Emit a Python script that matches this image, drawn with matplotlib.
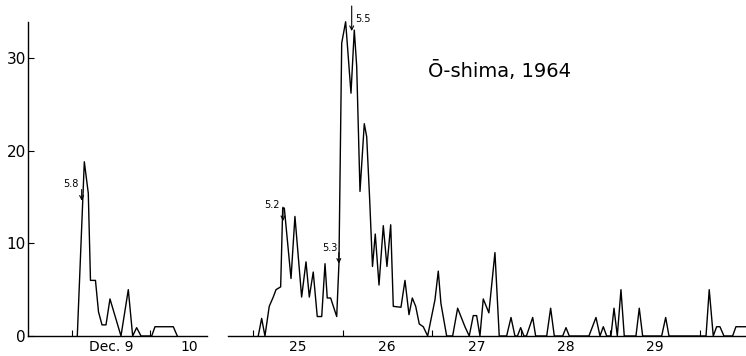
import matplotlib.pyplot as plt

plt.rcParams['font.family'] = ['DejaVu Sans']

# 震源数（Ō-shima 1964），时间单位：12月的日（小数）
t_dec9 = [9.068, 9.158, 9.209, 9.237, 9.301, 9.340, 9.385, 9.436, 9.487, 9.628,
          9.722, 9.778, 9.829, 9.885, 10.022, 10.064, 10.299, 10.350]
n_dec9 = [0, 18.8, 15.4, 6.0, 6.0, 2.6, 1.2, 1.2, 4.0, 0,
          5.0, 0, 0.9, 0, 0, 1.0, 1.0, 0]

t_dec25 = [25.055, 25.093, 25.130, 25.178, 25.223, 25.254, 25.306, 25.329, 25.347, 25.422,
           25.466, 25.541, 25.590, 25.627, 25.671, 25.716, 25.766, 25.803, 25.828, 25.866,
           25.934, 25.959, 25.990, 26.034, 26.094, 26.131, 26.158, 26.195, 26.243, 26.270,
           26.302, 26.335, 26.366, 26.408, 26.456, 26.497, 26.539, 26.568, 26.654, 26.699,
           26.744, 26.781, 26.819, 26.859, 26.904, 26.953, 27.035, 27.072, 27.102, 27.166,
           27.233, 27.289, 27.371, 27.419, 27.464, 27.502, 27.539, 27.576, 27.639, 27.707,
           27.755, 27.838, 27.887, 27.931, 27.959, 27.995, 28.032, 28.060, 28.130, 28.163,
           28.287, 28.331, 28.372, 28.466, 28.503, 28.540, 28.760, 28.839, 28.884, 28.921,
           28.959, 29.007, 29.041, 29.078, 29.119, 29.156, 29.287, 29.324, 29.362, 29.575,
           29.620, 29.657, 30.072, 30.108, 30.153, 30.191, 30.228, 30.273, 30.370, 30.407,
           30.52]
n_dec25 = [0, 1.9, 0, 3.2, 4.2, 5.0, 5.3, 13.8, 13.8, 6.2,
           12.9, 4.2, 8.0, 4.2, 6.9, 2.1, 2.1, 7.8, 4.1, 4.1,
           2.1, 7.8, 31.6, 33.9, 26.2, 33.0, 29.1, 15.6, 22.9, 21.5,
           15.0, 7.5, 11.0, 5.5, 11.9, 7.5, 12.0, 3.2, 3.1, 6.0,
           2.3, 4.1, 3.2, 1.3, 1.0, 0, 3.9, 7.0, 3.5, 0,
           0, 3.0, 1.0, 0, 2.2, 2.2, 0, 4.0, 2.5, 9.0,
           0, 0, 2.0, 0, 0, 0.9, 0, 0, 2.0, 0,
           0, 3.0, 0, 0, 0.9, 0, 0, 2.0, 0, 1.0,
           0, 0, 3.0, 0, 5.0, 0, 0, 3.0, 0, 0,
           2.0, 0, 0, 5.0, 0, 1.0, 1.0, 0, 0, 1.0,
           1.0]

# 标签位置（日中心）与日界刻度
left_labels = ['Dec. 9', '10']
left_label_pos = [9.5, 10.5]
left_bounds = [9.0, 10.0]
right_labels = ['25', '26', '27', '28', '29']
right_label_pos = [25.5, 26.5, 27.5, 28.5, 29.5]
right_bounds = [25.0, 26.0, 27.0, 28.0, 29.0, 30.0]

# 震级标注：(震级, 箭头时间, 箭头起点, 箭头终点)
mag_left = [('5.8', 9.124, 15.8, 14.6)]
mag_right = [('5.2', 25.332, 13.9, 12.4), ('5.3', 25.958, 9.0, 7.8), ('5.5', 26.102, 35.6, 32.9)]

W, H = 746, 356
fig = plt.figure(figsize=(W / 100, H / 100), dpi=100)
ax1 = fig.add_axes([28 / W, 20 / H, 179 / W, 336 / H])
ax2 = fig.add_axes([228 / W, 20 / H, 518 / W, 336 / H])

lw = 1.0
ax1.plot(t_dec9, n_dec9, color='black', lw=lw)
ax2.plot(t_dec25, n_dec25, color='black', lw=lw)

ax1.set_xlim(8.436, 10.731)
ax2.set_xlim(24.716, 30.52)
for ax in (ax1, ax2):
    ax.set_ylim(0, 36.25)
    ax.patch.set_visible(False)
    for s in ('top', 'right'):
        ax.spines[s].set_visible(False)
    ax.spines['bottom'].set_linewidth(lw)
    ax.tick_params(axis='x', which='major', length=0, pad=3, labelsize=10)
    ax.tick_params(axis='x', which='minor', direction='in', length=4.5, width=0.8)

ax1.spines['left'].set_linewidth(lw)
ax1.spines['left'].set_bounds(0, 33.9)
ax1.set_yticks([0, 10, 20, 30])
ax1.tick_params(axis='y', direction='in', length=4.5, width=0.8, pad=1.5, labelsize=11)
ax1.set_xticks(left_label_pos, left_labels)
ax1.set_xticks(left_bounds, minor=True)

ax2.spines['left'].set_visible(False)
ax2.set_yticks([])
ax2.set_xticks(right_label_pos, right_labels)
ax2.set_xticks(right_bounds, minor=True)

arrow = dict(arrowstyle='->', lw=0.8, color='black', shrinkA=0, shrinkB=0,
             mutation_scale=7)
for ax, marks in ((ax1, mag_left), (ax2, mag_right)):
    for m, t, y0, y1 in marks:
        ax.annotate('', xy=(t, y1), xytext=(t, y0), arrowprops=arrow)

ax1.text(8.985, 16.4, '5.8', fontsize=7, ha='center', va='center')
ax2.text(25.205, 14.1, '5.2', fontsize=7, ha='center', va='center')
ax2.text(25.855, 9.45, '5.3', fontsize=7, ha='center', va='center')
ax2.text(26.145, 34.2, '5.5', fontsize=7, ha='left', va='center')

ax2.text(27.76, 28.6, 'Ō-shima, 1964', fontsize=14, ha='center', va='center')

fig.savefig('out.png', dpi=100)
